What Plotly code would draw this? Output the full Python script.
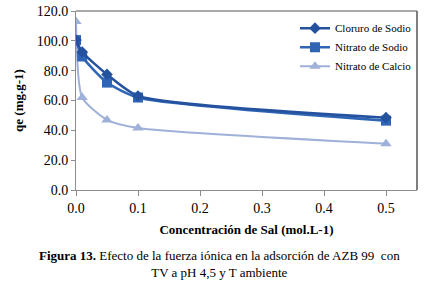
import plotly.graph_objects as go

x_vals = [0.0, 0.01, 0.05, 0.1, 0.5]
cloruro_sodio = [100.5, 92.5, 77.5, 63.0, 48.5]
nitrato_sodio = [100.5, 89.5, 72.0, 62.0, 46.5]
nitrato_calcio = [113.0, 62.0, 47.0, 41.5, 31.0]
series_names = ["Cloruro de Sodio", "Nitrato de Sodio", "Nitrato de Calcio"]
y_ticks = [0, 20, 40, 60, 80, 100, 120]
x_ticks = [0.0, 0.1, 0.2, 0.3, 0.4, 0.5]

serif = "Liberation Serif, Times New Roman, serif"

fig = go.Figure()
fig.add_trace(go.Scatter(x=x_vals, y=nitrato_calcio, name=series_names[2], mode="lines+markers",
                         line=dict(color="#9fb1d8", width=2, shape="spline", smoothing=0.6),
                         marker=dict(symbol="triangle-up", size=10, color="#9fb1d8")))
fig.add_trace(go.Scatter(x=x_vals, y=nitrato_sodio, name=series_names[1], mode="lines+markers",
                         line=dict(color="#2f65b5", width=2.5, shape="spline", smoothing=0.6),
                         marker=dict(symbol="square", size=10, color="#2f65b5")))
fig.add_trace(go.Scatter(x=x_vals, y=cloruro_sodio, name=series_names[0], mode="lines+markers",
                         line=dict(color="#24529e", width=2.5, shape="spline", smoothing=0.6),
                         marker=dict(symbol="diamond", size=9, color="#24529e")))

fig.update_layout(
    width=428, height=288,
    margin=dict(l=76, r=11, t=11, b=98, autoexpand=False),
    paper_bgcolor="white", plot_bgcolor="white",
    font=dict(family=serif, color="black"),
    showlegend=True,
    legend=dict(x=1.0, y=0.985, xanchor="right", yanchor="top", traceorder="reversed",
                font=dict(family=serif, size=11, color="black"), bgcolor="rgba(0,0,0,0)",
                itemwidth=30, tracegroupgap=0),
    xaxis=dict(range=[0, 0.55], tickvals=x_ticks, ticktext=[f"{v:.1f}" for v in x_ticks],
               showgrid=False, zeroline=False, showline=True, linecolor="#8c8c8c", linewidth=1,
               ticks="outside", ticklen=5, tickcolor="#8c8c8c", automargin=False,
               tickfont=dict(family=serif, size=14, color="black"),
               title=dict(text="<b>Concentración de Sal (mol.L-1)</b>", font=dict(family=serif, size=13, color="black"), standoff=10)),
    yaxis=dict(range=[0, 120], tickvals=y_ticks, ticktext=[f"{v:.1f}" for v in y_ticks],
               showgrid=False, zeroline=False, showline=True, linecolor="#8c8c8c", linewidth=1,
               ticks="outside", ticklen=4, tickcolor="#8c8c8c", automargin=False,
               tickfont=dict(family=serif, size=14, color="black"),
               title=dict(text="<b>qe (mg.g-1)</b>", font=dict(family=serif, size=13, color="black"), standoff=10)),
)

# plot-area frame (top and right)
fig.add_shape(type="line", xref="paper", yref="paper", x0=0, x1=1, y0=1, y1=1, line=dict(color="#555555", width=1))
fig.add_shape(type="line", xref="paper", yref="paper", x0=1, x1=1, y0=0, y1=1, line=dict(color="#555555", width=1.5))

fig.add_annotation(xref="paper", yref="paper", x=0.42, y=-0.415, xanchor="center", yanchor="middle",
                   showarrow=False, align="center",
                   text="<b>Figura 13.</b> Efecto de la fuerza iónica en la adsorción de AZB 99  con<br>TV a pH 4,5 y T ambiente",
                   font=dict(family=serif, size=13, color="black"))

fig.write_html("out.html", config={"displayModeBar": False},
               post_script="document.body.style.margin='0';document.body.style.overflow='hidden';")
